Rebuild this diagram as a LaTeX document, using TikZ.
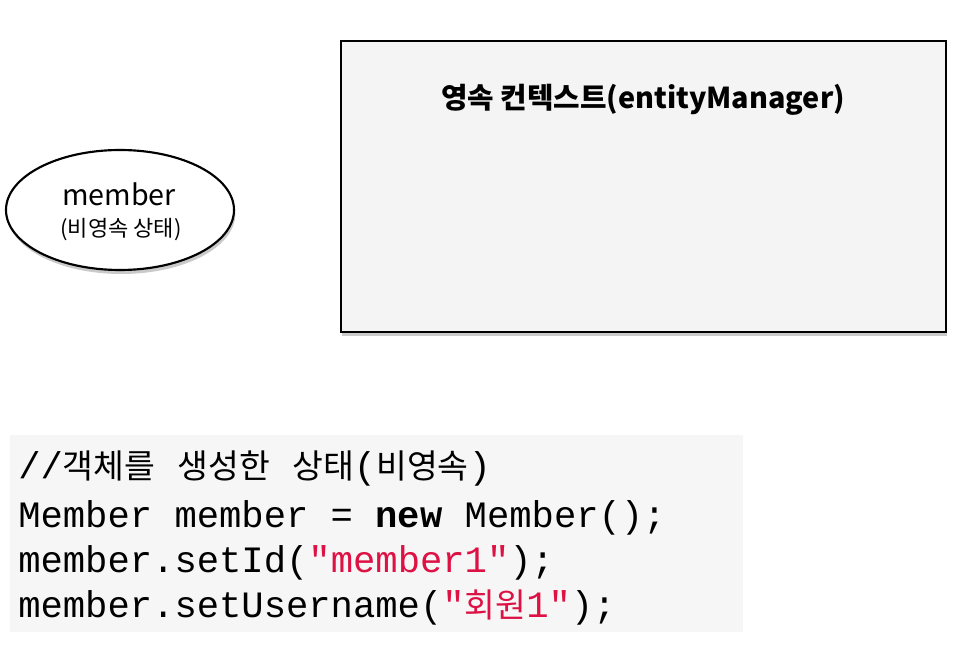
\documentclass[tikz,border=0pt]{standalone}
\usepackage{fontspec}
\setmainfont{Noto Sans CJK KR}
\newfontfamily\krfont{Noto Sans CJK KR}
\newfontfamily\krcode{Noto Sans CJK KR}[Scale=0.9]
\newfontfamily\codefont{Liberation Mono}
\usetikzlibrary{shadows,shapes.geometric}
\definecolor{strred}{RGB}{221,17,68}
\definecolor{boxgray}{RGB}{244,244,244}
\definecolor{codebg}{RGB}{246,246,246}
\newcommand{\K}[1]{{\krcode #1}}
\begin{document}
\begin{tikzpicture}[x=0.75pt,y=-0.75pt,
  shad/.style={drop shadow={shadow xshift=1pt,shadow yshift=-3pt,opacity=0.35,fill=black!60}},
  codeline/.style={anchor=base west,inner sep=0pt,font=\codefont\fontsize{27.9}{34}\selectfont},
  str/.style={text=strred}]
\useasboundingbox (0,0) rectangle (953,645);
% object ellipse
\node[ellipse,draw=black,line width=1.6pt,fill=white,shad,minimum width=171pt,minimum height=90pt,inner sep=0pt] (member) at (120,210) {};
\node[font=\fontsize{21.5}{25}\selectfont] (mname) at (119,194) {member};
\node[font=\fontsize{16.5}{20}\selectfont] (mstate) at (121,230) {(비영속 상태)};
% persistence context box
\node[draw=black,line width=1.6pt,fill=boxgray,shad,minimum width=453.75pt,minimum height=218.25pt,inner sep=0pt] (pc) at (643.5,186.5) {};
\node[font=\fontsize{21.6}{25}\selectfont\bfseries] (pctitle) at (643,100) {영속 컨텍스트(entityManager)};
% code block
\node[fill=codebg,minimum width=549.75pt,minimum height=147.75pt,inner sep=0pt] (codebg) at (376.5,533.5) {};
\node[codeline] (l1) at (18,478) {//\K{객체를} \K{생성한} \K{상태}(\K{비영속})};
\node[codeline] (l2) at (18,527) {Member member = \textbf{new} Member();};
\node[codeline] (l3) at (18,572) {member.setId({\color{strred}"member1"});};
\node[codeline] (l4) at (18,617) {member.setUsername({\color{strred}"\K{회원}1"});};
\end{tikzpicture}
\end{document}
